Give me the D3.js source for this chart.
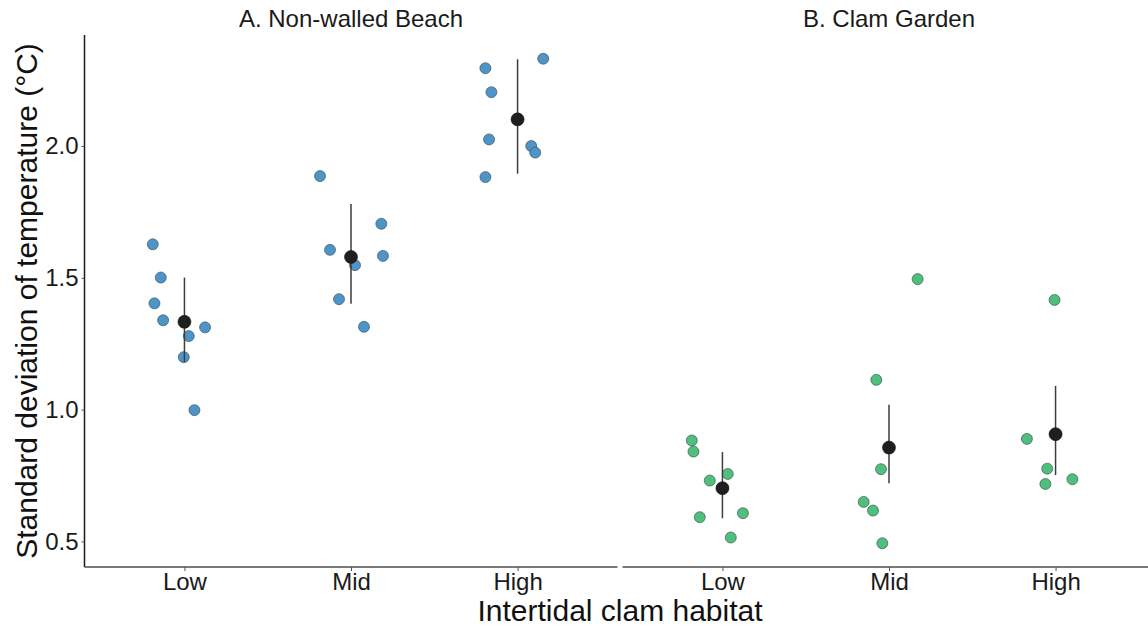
<!DOCTYPE html>
<html>
<head>
<meta charset="utf-8">
<script src="https://cdn.jsdelivr.net/npm/d3@7"></script>
<style>
  html, body { margin: 0; padding: 0; background: #ffffff; }
  svg { display: block; font-family: "Liberation Sans", Arial, sans-serif; }
</style>
</head>
<body>
<svg id="chart" width="1148" height="627"></svg>
<script>
// ---------------- data ----------------
const categories = ["Low", "Mid", "High"];
const panelTitles = ["A. Non-walled Beach", "B. Clam Garden"];
const yTicks = [0.5, 1.0, 1.5, 2.0];
const yTitle = "Standard deviation of temperature (°C)";
const xTitle = "Intertidal clam habitat";

// A. Non-walled Beach: raw values and horizontal jitter (in category units)
const beachLow  = [1.627, 1.501, 1.403, 1.339, 1.312, 1.279, 1.199, 0.998];
const beachLowJitter  = [-0.19, -0.142, -0.18, -0.128, 0.124, 0.026, -0.004, 0.06];
const beachMid  = [1.886, 1.705, 1.606, 1.583, 1.548, 1.419, 1.314];
const beachMidJitter  = [-0.186, 0.182, -0.126, 0.192, 0.024, -0.072, 0.078];
const beachHigh = [2.295, 2.331, 2.204, 2.025, 2.000, 1.975, 1.882];
const beachHighJitter = [-0.193, 0.154, -0.157, -0.171, 0.082, 0.106, -0.193];
const beachMean  = [1.333, 1.579, 2.101];
const beachCiLow = [1.181, 1.402, 1.895];
const beachCiHigh = [1.501, 1.780, 2.329];

// B. Clam Garden
const gardenLow  = [0.883, 0.841, 0.756, 0.731, 0.607, 0.592, 0.515];
const gardenLowJitter  = [-0.184, -0.174, 0.032, -0.076, 0.123, -0.136, 0.05];
const gardenMid  = [1.495, 1.113, 0.774, 0.650, 0.617, 0.493];
const gardenMidJitter  = [0.172, -0.076, -0.048, -0.152, -0.096, -0.040];
const gardenHigh = [1.416, 0.889, 0.776, 0.718, 0.736];
const gardenHighJitter = [-0.006, -0.172, -0.05, -0.061, 0.101];
const gardenMean  = [0.702, 0.856, 0.907];
const gardenCiLow = [0.588, 0.721, 0.752];
const gardenCiHigh = [0.839, 1.018, 1.090];

const panelColors = ["#4d95c9", "#4fbf7c"];

// ---------------- build tables ----------------
function rows(vals, jit, cat) { return vals.map((v, i) => ({ cat, v, j: jit[i] })); }
const panels = [
  {
    title: panelTitles[0], color: panelColors[0],
    points: [].concat(rows(beachLow, beachLowJitter, "Low"), rows(beachMid, beachMidJitter, "Mid"), rows(beachHigh, beachHighJitter, "High")),
    summary: categories.map((c, i) => ({ cat: c, mean: beachMean[i], lo: beachCiLow[i], hi: beachCiHigh[i] }))
  },
  {
    title: panelTitles[1], color: panelColors[1],
    points: [].concat(rows(gardenLow, gardenLowJitter, "Low"), rows(gardenMid, gardenMidJitter, "Mid"), rows(gardenHigh, gardenHighJitter, "High")),
    summary: categories.map((c, i) => ({ cat: c, mean: gardenMean[i], lo: gardenCiLow[i], hi: gardenCiHigh[i] }))
  }
];

// ---------------- layout ----------------
const svg = d3.select("#chart");
svg.append("rect").attr("width", 1148).attr("height", 627).attr("fill", "#fff");

const plotTop = 35, plotBottom = 567;
const panelLeft = [84.5, 622.5];
const panelWidth = 533;

const y = d3.scaleLinear().domain([0.403, 2.421]).range([plotBottom, plotTop]);

panels.forEach((p, pi) => {
  const x0 = panelLeft[pi];
  const x = d3.scalePoint().domain(categories).range([x0, x0 + panelWidth]).padding(0.6);
  const g = svg.append("g");

  // strip title
  g.append("text")
    .attr("x", x0 + panelWidth / 2).attr("y", 27)
    .attr("text-anchor", "middle")
    .attr("font-size", 24).attr("fill", "#1a1a1a")
    .text(p.title);

  // x axis
  const xAxis = d3.axisBottom(x).tickSize(4).tickSizeOuter(0).tickPadding(2);
  const xa = g.append("g").attr("transform", `translate(0,${plotBottom})`).call(xAxis);
  xa.select(".domain").attr("stroke", "#7a7a7a").attr("stroke-width", 2)
    .attr("d", `M${x0},0H${x0 + panelWidth}`);
  xa.selectAll(".tick line").attr("stroke", "#555").attr("stroke-width", 1);
  xa.selectAll(".tick text").attr("font-size", 24).attr("fill", "#1a1a1a")
    .attr("font-family", "Liberation Sans, Arial, sans-serif").attr("dy", "0.72em");

  // y axis only on left panel
  if (pi === 0) {
    const yAxis = d3.axisLeft(y).tickValues(yTicks).tickFormat(d3.format(".1f")).tickSize(3).tickSizeOuter(0).tickPadding(3);
    const ya = g.append("g").attr("transform", `translate(${x0},0)`).call(yAxis);
    ya.select(".domain").attr("stroke", "#1a1a1a").attr("stroke-width", 1.5)
      .attr("d", `M0,${plotTop}V${plotBottom}`);
    ya.selectAll(".tick line").attr("stroke", "#555");
    ya.selectAll(".tick text").attr("font-size", 24).attr("fill", "#1a1a1a")
      .attr("font-family", "Liberation Sans, Arial, sans-serif");
  }

  // jittered points
  g.append("g").selectAll("circle").data(p.points).join("circle")
    .attr("cx", d => x(d.cat) + d.j * x.step())
    .attr("cy", d => y(d.v))
    .attr("r", 5.5)
    .attr("fill", p.color)
    .attr("stroke", "#3c4a52").attr("stroke-opacity", 0.8).attr("stroke-width", 0.8);

  // error bars
  g.append("g").selectAll("line").data(p.summary).join("line")
    .attr("x1", d => x(d.cat)).attr("x2", d => x(d.cat))
    .attr("y1", d => y(d.lo)).attr("y2", d => y(d.hi))
    .attr("stroke", "#3d3d3d").attr("stroke-width", 1.5);

  // means
  g.append("g").selectAll("circle").data(p.summary).join("circle")
    .attr("cx", d => x(d.cat)).attr("cy", d => y(d.mean))
    .attr("r", 6.5).attr("fill", "#1f1f1f").attr("stroke", "#111").attr("stroke-width", 0.6);
});

// axis titles
svg.append("text")
  .attr("transform", `translate(37,${(plotTop + plotBottom) / 2}) rotate(-90)`)
  .attr("text-anchor", "middle").attr("font-size", 30).attr("fill", "#111")
  .text(yTitle);

svg.append("text")
  .attr("x", (panelLeft[0] + panelLeft[1] + panelWidth) / 2).attr("y", 621)
  .attr("text-anchor", "middle").attr("font-size", 30).attr("fill", "#111")
  .text(xTitle);
</script>
</body>
</html>
